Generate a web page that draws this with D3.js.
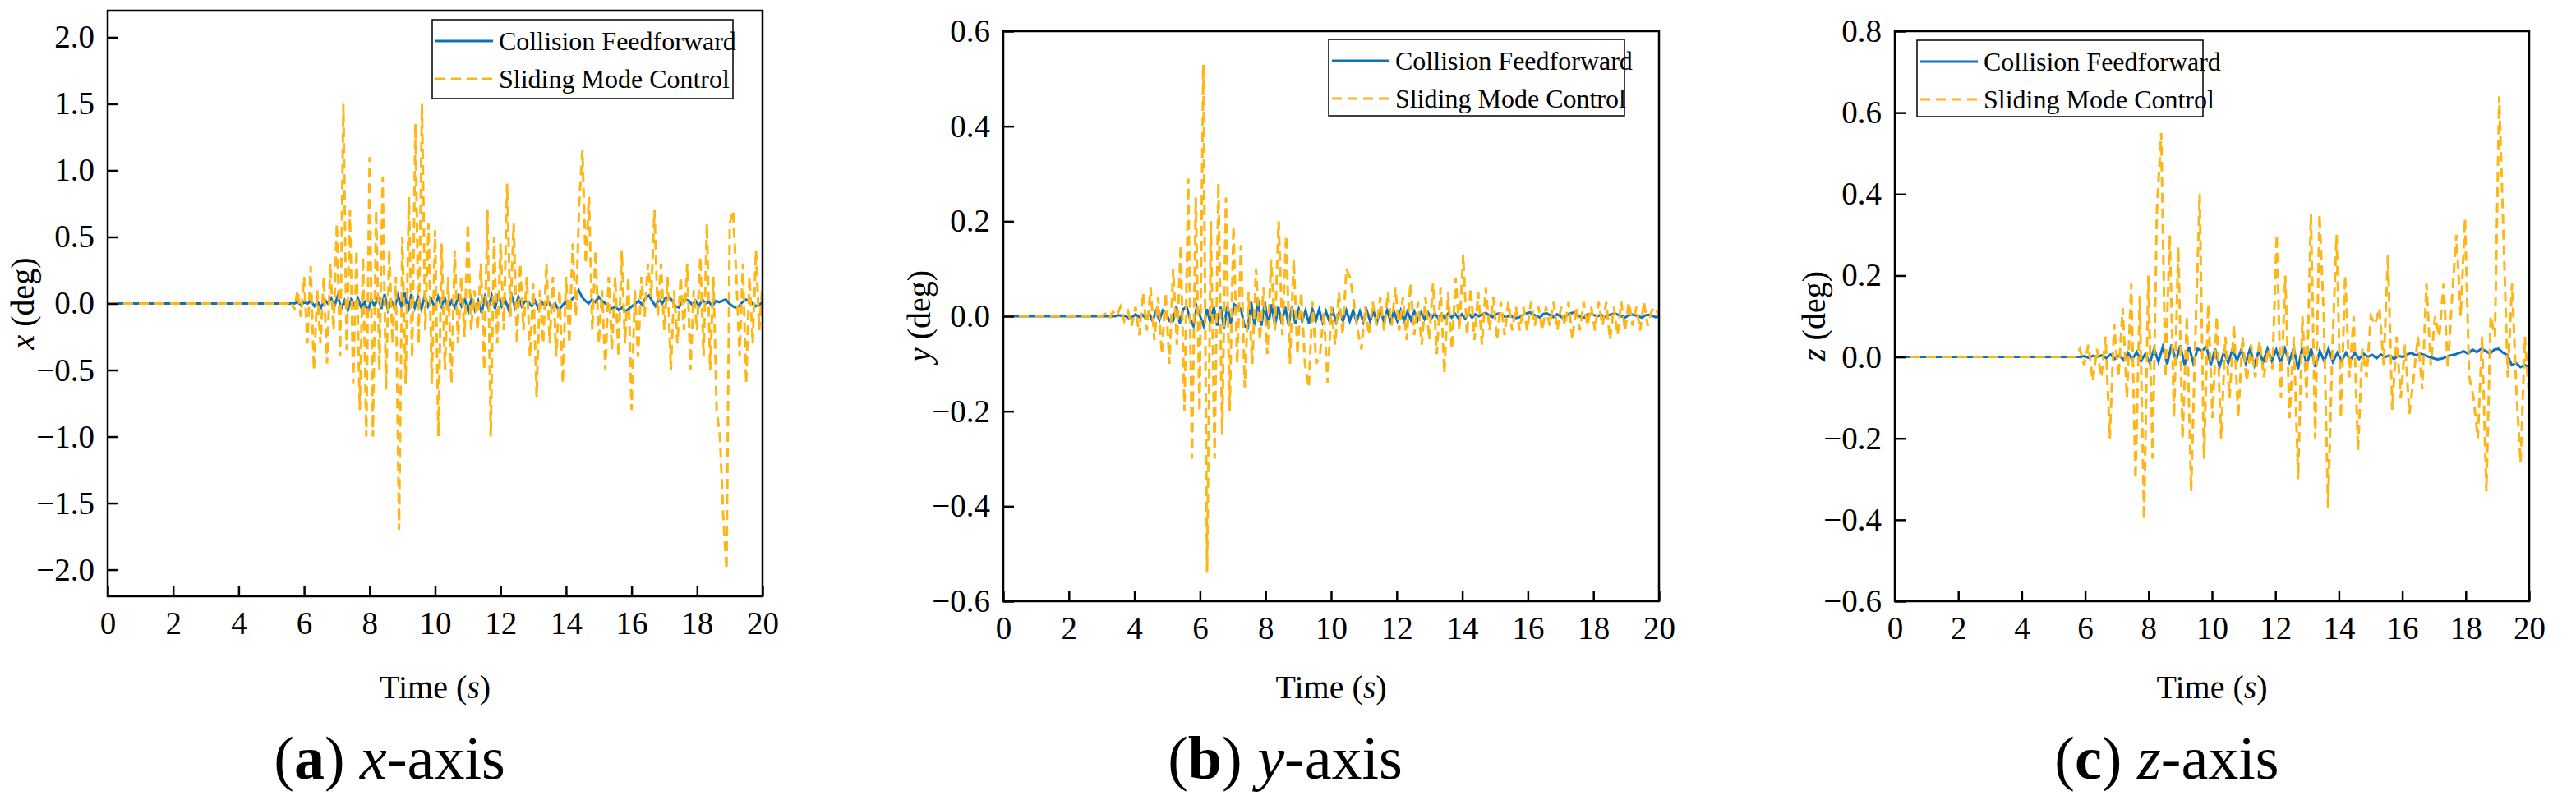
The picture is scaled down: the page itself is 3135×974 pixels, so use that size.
<!DOCTYPE html>
<html><head><meta charset="utf-8">
<script src="https://cdn.jsdelivr.net/npm/d3@7"></script>
<style>body{margin:0;background:#fff}svg{display:block}</style>
</head><body>
<svg id="c" width="3135" height="974" style="font-family:'Liberation Serif','Times New Roman',Times,serif"></svg>
<script>
// ---- data ----
const xTicks = [0,2,4,6,8,10,12,14,16,18,20];
const seriesNames = ["Collision Feedforward","Sliding Mode Control"];
// each series: start time, samples evenly spread until 20 s
const smcXStart = 5.5;
const smcX = [0,0.02,-0.05,0.1,-0.1,0.2,-0.3,0.28,-0.5,0.1,-0.3,0.2,-0.45,0.3,-0.2,0.6,-0.4,1.5,-0.35,0.7,-0.6,0.4,-0.8,0.35,-1.0,1.1,-1.0,0.7,-0.5,0.95,-0.65,0.4,-0.3,0.2,-1.7,0.5,-0.6,0.8,-0.4,1.35,-0.3,1.5,-0.2,0.6,-0.6,0.55,-1.0,0.45,-0.5,0.2,-0.6,0.4,-0.3,0.2,-0.25,0.6,-0.2,0.1,-0.2,0.3,-0.5,0.7,-1.0,0.5,-0.3,0.45,-0.2,0.9,-0.1,0.6,-0.3,0.3,-0.2,0.2,-0.4,0.15,-0.7,0.1,-0.3,0.3,-0.3,0.2,-0.4,0.1,-0.6,0.2,-0.3,0.45,-0.1,0.75,1.15,0.3,0.8,-0.2,0.4,-0.3,0.1,-0.5,0.2,-0.35,0.2,-0.4,0.4,-0.3,0.2,-0.8,0.1,-0.4,0.2,-0.1,0.3,0.05,0.7,-0.1,0.3,-0.2,0.2,-0.5,0.1,-0.3,0.2,-0.2,0.3,-0.5,0.1,-0.2,0.35,-0.4,0.6,-0.5,0.2,-0.8,-1.0,-1.6,-2.0,0.6,0.7,0.2,-0.4,0.3,-0.6,0.2,-0.3,0.4,-0.2,0.15];
const cfXStart = 5.6;
const cfX = [0,0,0.01,-0.01,0.01,0,0.02,-0.02,0.01,-0.03,0.03,0,0.04,-0.02,0.06,-0.04,0.02,-0.05,0.03,-0.02,0.04,-0.03,0.01,-0.06,0.03,-0.02,0.05,-0.04,0.07,-0.05,0.02,-0.03,0.06,-0.02,0.08,-0.06,0.07,-0.03,0.05,-0.04,0.06,-0.02,0.03,-0.03,0.05,-0.02,0.04,-0.04,0.02,-0.03,0.05,-0.02,0.03,-0.06,0.04,-0.05,0.02,-0.07,0.05,-0.03,0.06,-0.04,0.07,-0.02,0.03,-0.04,0.06,-0.03,0.05,-0.02,0.02,0.01,-0.02,0.02,-0.04,0.01,-0.02,0.01,-0.03,0,-0.05,-0.02,0.01,-0.02,0.03,0.06,0.1,0.05,0.02,0,0.03,0.01,0.05,0.02,0,-0.02,-0.04,-0.02,-0.05,-0.03,-0.06,-0.04,-0.02,0,0.02,-0.01,0.04,0.06,0.02,-0.02,0.03,0,0.04,0.05,0.02,-0.02,-0.03,0.02,0.03,0.02,-0.01,0.02,-0.02,0.03,0,0.01,-0.02,0.02,0.01,0.02,0.03,0,-0.02,-0.03,-0.02,0.01,0.03,0.02,0,-0.02,-0.01,0.01];
const smcYStart = 3.0;
const smcY = [0,0.005,-0.005,0.01,0,0.02,-0.01,0.01,-0.02,0.02,-0.04,0.05,-0.03,0.06,-0.05,0.04,-0.08,0.05,-0.1,0.1,-0.06,0.15,-0.2,0.29,-0.3,0.25,-0.2,0.53,-0.54,0.2,-0.3,0.28,-0.25,0.25,-0.2,0.19,-0.1,0.15,-0.15,0.05,-0.1,0.1,-0.05,0.06,-0.08,0.12,-0.03,0.2,-0.04,0.17,-0.1,0.12,-0.08,0.05,-0.1,-0.15,0.03,-0.1,-0.08,0.01,-0.14,0.02,-0.06,0.05,-0.04,0.1,0.08,0.03,-0.03,-0.07,0.02,-0.04,0.03,-0.02,0.04,-0.03,0.05,-0.02,0.06,-0.03,0.04,-0.05,0.07,-0.04,0.03,-0.06,0.04,-0.05,0.07,-0.08,0.06,-0.12,0.05,-0.07,0.08,-0.03,0.13,-0.04,0.06,-0.05,0.05,-0.06,0.06,-0.03,0.04,-0.05,0.03,-0.04,0.03,-0.03,0.02,-0.03,0.02,-0.03,0.03,-0.02,0.02,-0.03,0.02,-0.02,0.03,-0.03,0.02,-0.02,0.03,-0.05,0.02,-0.03,0.03,-0.02,0.02,-0.03,0.03,-0.02,0.03,-0.05,0.02,-0.04,0.03,-0.03,0.03,-0.02,0.02,-0.03,0.03,-0.02,0.01,0.02,0];
const cfYStart = 3.0;
const cfY = [0,0,0,0,0,0.002,0.001,0,-0.004,-0.002,0.004,-0.002,0.003,-0.005,0.006,-0.01,0.01,-0.008,0.012,0.005,-0.01,-0.01,0.02,-0.015,0.015,0.02,-0.005,-0.02,0.02,0,-0.02,0.015,-0.015,0.02,-0.02,0.02,-0.025,0.022,-0.015,0.025,0.02,0.015,-0.02,-0.025,0.03,-0.02,0.035,-0.02,0.03,-0.02,0.025,-0.02,0.02,-0.015,0.02,-0.018,0.02,-0.015,0.015,-0.01,0.012,-0.015,0.015,-0.01,0.014,-0.012,0.01,-0.01,0.012,-0.012,0.01,-0.01,0.012,-0.01,0.012,-0.011,0.01,-0.012,0.012,-0.01,0.01,-0.012,0.014,-0.01,0.012,-0.01,0.01,-0.01,0.012,-0.01,0.01,-0.008,0.01,-0.008,0.008,-0.006,0.008,-0.005,0.006,-0.004,0.004,-0.004,0.006,-0.003,0.005,-0.004,0.004,-0.005,0.006,-0.003,0.004,0,0.004,0.007,0.002,-0.002,0.004,0.006,0.002,-0.003,0.002,-0.002,-0.004,-0.002,0.003,0.006,0.008,0.004,0,-0.003,0.005,0.006,0.002,-0.002,0.004,0,-0.005,0.003,0.006,0.008,0.003,-0.002,-0.003,0.004,0.005,0.002,0,0.003,-0.002,0.002,0.004,0.006,0.003,0,-0.003,0.002,0.004,0.002,0,-0.003,0.002,0.003,0.001,-0.002,0];
const smcZStart = 5.7;
const smcZ = [0,0.02,-0.02,0.03,-0.06,0.02,-0.05,0.05,-0.2,0.08,-0.05,0.12,-0.1,0.18,-0.3,0.15,-0.4,0.2,-0.25,0.36,0.55,-0.05,0.3,-0.15,0.27,-0.2,0.1,-0.33,0.05,0.4,-0.25,0.13,-0.15,0.1,-0.2,0.05,-0.1,0.08,-0.15,0.05,-0.06,0.03,-0.05,0.04,-0.05,0.02,-0.03,0.3,-0.1,0.2,-0.15,0.05,-0.3,0.1,-0.1,0.35,-0.2,0.35,0.1,-0.37,0.02,0.3,-0.15,0.2,-0.05,0.1,-0.23,0.02,-0.05,0.1,0.08,0.12,-0.02,0.25,-0.13,0.05,-0.1,0.03,-0.14,-0.05,0.05,-0.08,0.18,-0.02,0.1,0.05,0.18,-0.03,0.15,0.3,0.1,0.34,-0.05,-0.1,-0.2,0.05,-0.33,0.1,0.05,0.64,0.3,-0.05,0.18,-0.08,-0.26,0.05,-0.1];
const cfZStart = 5.7;
const cfZ = [0,0,0.002,-0.002,0.003,0,0.004,-0.003,0.006,-0.005,0.004,-0.008,0.01,-0.006,0.012,-0.01,0.008,-0.015,0.02,-0.012,0.025,-0.018,0.03,-0.01,0.028,-0.02,0.025,-0.015,0.02,0.015,0.025,-0.02,0.02,-0.025,0.012,-0.015,0.02,-0.01,0.018,-0.015,0.02,-0.02,0.015,-0.012,0.02,-0.01,0.018,-0.015,0.02,-0.012,0.022,-0.03,0.025,-0.02,0.02,-0.025,0.015,-0.01,0.02,-0.012,0.01,-0.01,0.01,-0.008,0.01,-0.005,0.008,0,0.005,-0.003,0.006,0,0.004,-0.005,0.003,0,0.006,0.01,0.004,0.008,0.005,0,-0.003,-0.006,-0.004,0,0.004,0.006,0.01,0.014,0.008,0.018,0.012,0.02,0.015,0.008,0.018,0.02,0.01,0.005,-0.02,-0.015,-0.025,-0.02,-0.025];

// ---- layout ----
const panels = [
  {L:131,R:928,T:13,B:726,dom:[-2.2,2.2],ticks:[-2,-1.5,-1,-0.5,0,0.5,1,1.5,2],
   lab:"x",legend:{x:526,y:24,w:366,h:96},ylabX:29,capX:474,cap:["a","x"],
   cf:[cfX,cfXStart],smc:[smcX,smcXStart]},
  {L:1221,R:2019,T:38,B:732,dom:[-0.6,0.6],ticks:[-0.6,-0.4,-0.2,0,0.2,0.4,0.6],
   lab:"y",legend:{x:1617,y:48,w:360,h:93},ylabX:1120,capX:1564,cap:["b","y"],
   cf:[cfY,cfYStart],smc:[smcY,smcYStart]},
  {L:2306,R:3078,T:38,B:732,dom:[-0.6,0.8],ticks:[-0.6,-0.4,-0.2,0,0.2,0.4,0.6,0.8],
   lab:"z",legend:{x:2333,y:49,w:348,h:93},ylabX:2209,capX:2637,cap:["c","z"],
   cf:[cfZ,cfZStart],smc:[smcZ,smcZStart]}
];
const BLUE="#0E72BD", YEL="#FFB515";
const FONT="'Liberation Serif','Times New Roman',Times,serif";
const svg=d3.select("#c");
const fmt=v=>(v<0?"\u2212":"")+Math.abs(v).toFixed(1);

panels.forEach(p=>{
  const x=d3.scaleLinear().domain([0,20]).range([p.L,p.R]);
  const y=d3.scaleLinear().domain(p.dom).range([p.B,p.T]);
  const g=svg.append("g").style("font-family",FONT);
  const clipId="clip"+p.lab;
  g.append("clipPath").attr("id",clipId).append("rect").attr("x",p.L).attr("y",p.T).attr("width",p.R-p.L).attr("height",p.B-p.T);
  const line=d3.line().x(d=>x(d[0])).y(d=>y(d[1]));
  const mk=([vals,st])=>{const t=d3.scaleLinear().domain([0,vals.length-1]).range([st,20]);const a=[[0,0]];vals.forEach((v,i)=>a.push([t(i),v]));return a;};
  g.append("path").attr("clip-path",`url(#${clipId})`).attr("d",line(mk(p.cf)))
    .attr("fill","none").attr("stroke",BLUE).attr("stroke-width",3);
  g.append("path").attr("clip-path",`url(#${clipId})`).attr("d",line(mk(p.smc)))
    .attr("fill","none").attr("stroke",YEL).attr("stroke-width",3).attr("stroke-dasharray","12,7");
  const xa=d3.axisBottom(x).tickValues(xTicks).tickSize(-13).tickPadding(18).tickFormat(d3.format("d"));
  const ya=d3.axisLeft(y).tickValues(p.ticks).tickSize(-13).tickPadding(16).tickFormat(fmt);
  const gx=g.append("g").attr("transform",`translate(0,${p.B})`).call(xa);
  const gy=g.append("g").attr("transform",`translate(${p.L},0)`).call(ya);
  [gx,gy].forEach(a=>{a.attr("font-family",null).attr("font-size",null);a.selectAll("path").remove();
    a.selectAll("line").attr("stroke","#000").attr("stroke-width",2.5);
    a.selectAll("text").style("font-family",FONT).style("font-size","39px").attr("fill","#000");});
  g.append("rect").attr("x",p.L).attr("y",p.T).attr("width",p.R-p.L).attr("height",p.B-p.T)
    .attr("fill","none").attr("stroke","#000").attr("stroke-width",2.5);
  const tx=g.append("text").attr("x",(p.L+p.R)/2).attr("y",850).attr("text-anchor","middle").style("font-size","40px");
  tx.append("tspan").text("Time (");tx.append("tspan").attr("font-style","italic").text("s");tx.append("tspan").text(")");
  const ty=g.append("text").attr("transform",`translate(${p.ylabX+12},${(p.T+p.B)/2}) rotate(-90)`).attr("text-anchor","middle").style("font-size","40px");
  ty.append("tspan").attr("font-style","italic").text(p.lab);ty.append("tspan").text(" (deg)");
  const L=p.legend;
  g.append("rect").attr("x",L.x).attr("y",L.y).attr("width",L.w).attr("height",L.h).attr("fill","#fff").attr("stroke","#000").attr("stroke-width",1.5);
  [[BLUE,null],[YEL,"12,7"]].forEach((s,i)=>{
    const yy=L.y+26+i*46;
    g.append("line").attr("x1",L.x+4).attr("x2",L.x+74).attr("y1",yy).attr("y2",yy).attr("stroke",s[0]).attr("stroke-width",3).attr("stroke-dasharray",s[1]);
    g.append("text").attr("x",L.x+81).attr("y",yy+11).style("font-size","32px").text(seriesNames[i]);
  });
  const c=g.append("text").attr("x",p.capX).attr("y",948).attr("text-anchor","middle").style("font-size","74px");
  c.append("tspan").text("(");c.append("tspan").attr("font-weight","bold").text(p.cap[0]);c.append("tspan").text(") ");
  c.append("tspan").attr("font-style","italic").text(p.cap[1]);c.append("tspan").text("-axis");
});
</script>
</body></html>
